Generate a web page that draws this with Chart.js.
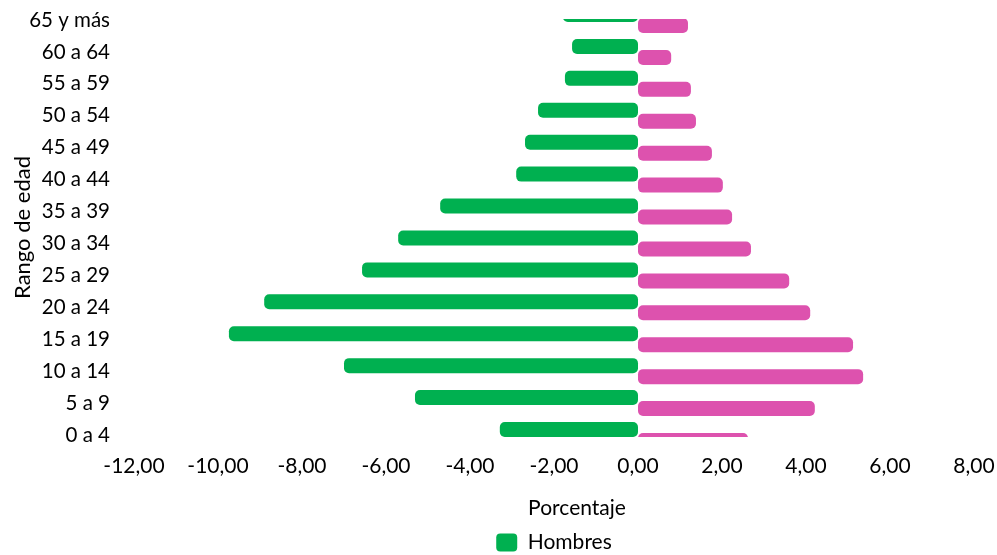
<!DOCTYPE html>
<html>
<head>
<meta charset="utf-8">
<script src="https://cdn.jsdelivr.net/npm/chart.js@4.4.0/dist/chart.umd.min.js"></script>
<style>
html,body{margin:0;padding:0;background:#fff;}
#wrap{width:997px;height:555px;position:relative;}
</style>
</head>
<body>
<div id="wrap"><canvas id="c"></canvas></div>
<script>
const categories = ['65 y más','60 a 64','55 a 59','50 a 54','45 a 49','40 a 44','35 a 39','30 a 34','25 a 29','20 a 24','15 a 19','10 a 14','5 a 9','0 a 4'];
const hombres = [-1.79,-1.57,-1.74,-2.38,-2.69,-2.90,-4.71,-5.71,-6.57,-8.90,-9.74,-7.00,-5.31,-3.29];
const mujeres = [1.19,0.79,1.26,1.38,1.76,2.02,2.24,2.69,3.60,4.10,5.12,5.36,4.21,2.62];
const xTicks = [-12,-10,-8,-6,-4,-2,0,2,4,6,8];
const seriesNames = ['Hombres','Mujeres'];
const xTitle = 'Porcentaje';
const yTitle = 'Rango de edad';

const FONT = 'Lato';
Chart.defaults.font.family = FONT;
Chart.defaults.font.size = 21;
Chart.defaults.color = '#000';

const tweaks = {
  id: 'tweaks',
  afterLayout(chart) {
    const lg = chart.legend;
    if (lg) { lg.left += 67; lg.right += 67; lg.top += 8; lg.bottom += 8; }
  },
  afterDraw(chart) {
    const ctx = chart.ctx, a = chart.chartArea;
    ctx.save();
    ctx.font = '21px ' + FONT;
    ctx.fillStyle = '#000';
    ctx.textAlign = 'center';
    ctx.textBaseline = 'middle';
    ctx.fillText(xTitle, (a.left + a.right) / 2 + 23, 508);
    ctx.restore();
  }
};

new Chart(document.getElementById('c'), {
  type: 'bar',
  data: {
    labels: categories,
    datasets: [
      { label: seriesNames[0], data: hombres, backgroundColor: '#00B050' },
      { label: seriesNames[1], data: mujeres, backgroundColor: '#DD52AE' }
    ]
  },
  options: {
    indexAxis: 'y',
    responsive: true,
    maintainAspectRatio: false,
    animation: false,
    layout: { padding: { top: 20, right: 23, bottom: 0, left: 0 } },
    datasets: {
      bar: {
        categoryPercentage: 0.689,
        barPercentage: 1.364,
        borderRadius: 5,
        borderSkipped: false,
        clip: { left: false, top: 1, right: false, bottom: 2 }
      }
    },
    scales: {
      x: {
        type: 'linear',
        min: -12, max: 8,
        grid: { display: false, drawTicks: false },
        border: { display: false },
        afterBuildTicks: s => { s.ticks = xTicks.map(v => ({ value: v })); },
        afterFit: s => { s.height = 79; s.paddingLeft = 0; s.paddingRight = 0; },
        ticks: {
          padding: 19,
          maxRotation: 0,
          autoSkip: false,
          callback: v => v.toFixed(2).replace('.', ',')
        },
        title: { display: false }
      },
      y: {
        type: 'category',
        offset: false,
        grid: { display: false, drawTicks: false },
        border: { display: false },
        afterFit: s => { s.width = 134; s.paddingTop = 0; s.paddingBottom = 0; },
        ticks: { padding: 24, autoSkip: false, font: { size: 20.5 } },
        title: { display: true, text: yTitle, font: { size: 22 }, padding: { top: 10, bottom: 0 } }
      }
    },
    plugins: {
      legend: {
        position: 'bottom',
        labels: {
          boxWidth: 21,
          boxHeight: 18,
          useBorderRadius: true,
          borderRadius: 4,
          padding: 10,
          filter: item => item.text === seriesNames[0]
        }
      },
      tooltip: { enabled: false }
    }
  },
  plugins: [tweaks]
});
</script>
</body>
</html>
